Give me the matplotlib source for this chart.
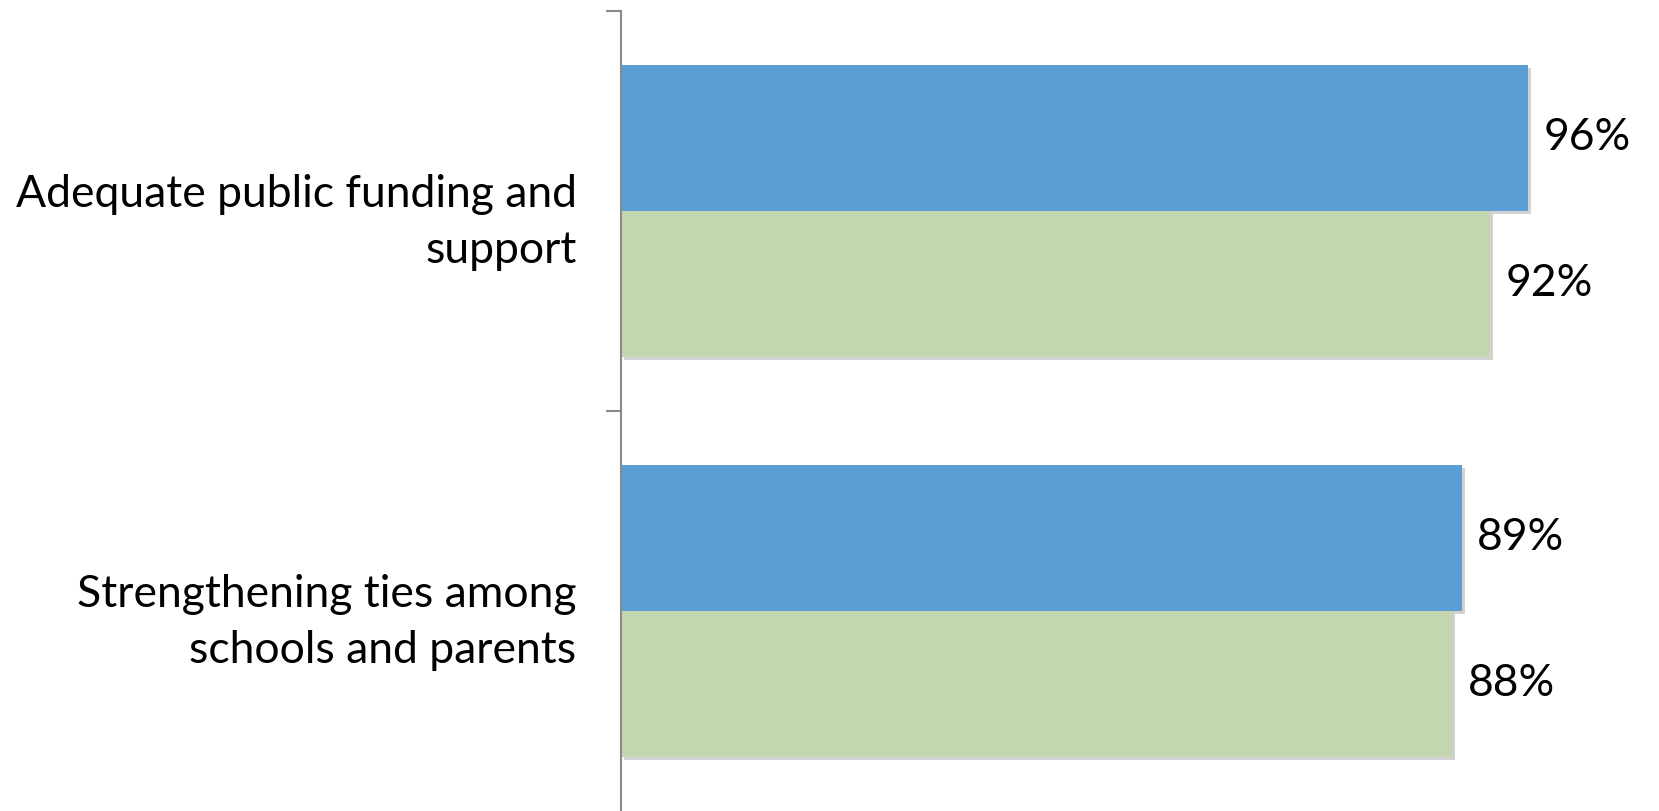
import matplotlib.pyplot as plt
import matplotlib.patheffects as pe
import numpy as np

plt.rcParams['font.family'] = ['Lato', 'DejaVu Sans']

categories = ["Adequate public funding and\nsupport",
              "Strengthening ties among\nschools and parents"]
series_a = [0.96, 0.89]
series_b = [0.92, 0.88]
colors = ["#5B9DD5", "#C4D6B0"]

fig = plt.figure(figsize=(16.59, 8.11), dpi=100)
ax = fig.add_axes([621 / 1659, 0, 1 - 621 / 1659, 1 - 11 / 811])

y = np.arange(len(categories))
h = 0.365
shadow = [pe.SimplePatchShadow(offset=(2, -2), shadow_rgbFace="#808080", alpha=0.35), pe.Normal()]
bars_a = ax.barh(y - h / 2, series_a, height=h, color=colors[0], path_effects=shadow)
bars_b = ax.barh(y + h / 2, series_b, height=h, color=colors[1], path_effects=shadow)

for bars in (bars_a, bars_b):
    for b in bars:
        ax.text(b.get_width() + 0.016, b.get_y() + b.get_height() / 2,
                "{:.0%}".format(b.get_width()), va="center", ha="left", fontsize=32)

ax.set_xlim(0, 1038 / 9.45 / 100)
ax.set_ylim(1.5, -0.5)

ax.set_yticks(y)
ax.set_yticklabels(categories, fontsize=32, ha="right", linespacing=1.45)
ax.tick_params(axis="y", which="major", length=0, pad=32)
ax.set_yticks([-0.5, 0.5], minor=True)
ax.tick_params(axis="y", which="minor", length=11, width=1.5, color="#8a8a8a")
ax.set_xticks([])

for s in ("top", "right", "bottom"):
    ax.spines[s].set_visible(False)
ax.spines["left"].set_color("#8a8a8a")
ax.spines["left"].set_linewidth(1.5)

fig.savefig("out.png", dpi=100)
